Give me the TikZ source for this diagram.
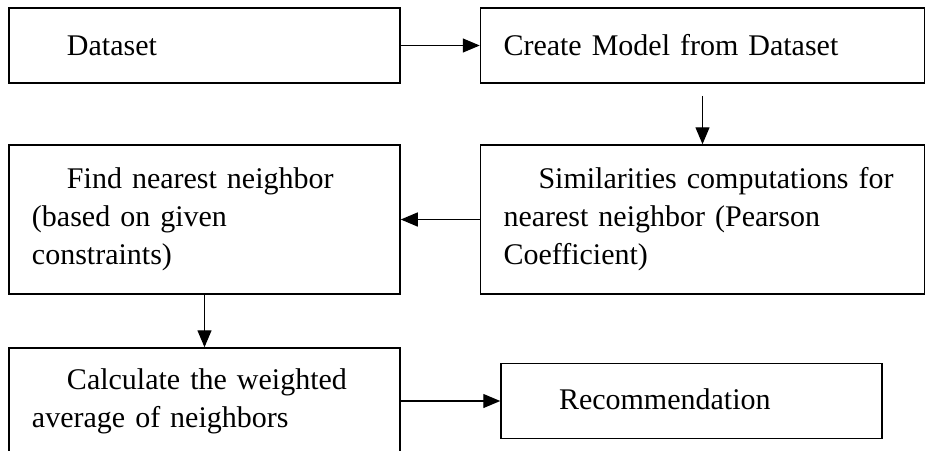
\documentclass[tikz,border=0pt]{standalone}
\usepackage{fontspec}
\setmainfont{Liberation Serif}
\usetikzlibrary{arrows.meta}

\tikzset{
    stepbox/.style={draw, rectangle, line width=1.5pt, inner xsep=23pt, inner ysep=0pt,
        align=left, font=\fontsize{30}{38}\selectfont},
}
\newcommand{\ind}{\hspace*{35pt}}

\begin{document}
\begin{tikzpicture}[node distance=174pt, >={Triangle[length=17pt,width=14pt]}, line width=1.3pt]
    \useasboundingbox (-204.5pt,45.5pt) rectangle (728.5pt,-404.5pt);
    \node (dataset) [stepbox, minimum width=391pt, minimum height=75pt, text width=345pt] {\ind Dataset};
    \node (find) [stepbox, below of=dataset, minimum width=391pt, minimum height=149pt, text width=345pt] {\ind Find nearest neighbor\\(based on given\\constraints)};
    \node (calc) [stepbox, below of=find, yshift=-7.5pt, minimum width=391pt, minimum height=106pt, text width=345pt] {\ind Calculate the weighted\\average of neighbors};
    \node (model) [stepbox, right of=dataset, xshift=324pt, minimum width=444pt, minimum height=75pt, text width=398pt] {Create Model from Dataset};
    \node (sim) [stepbox, below of=model, minimum width=444pt, minimum height=149pt, text width=398pt] {\ind Similarities computations for\\nearest neighbor (Pearson\\Coefficient)};
    \node (rec) [stepbox, right of=calc, xshift=313pt, minimum width=381pt, minimum height=75pt, text width=335pt, text depth=4pt] {\ind Recommendation};
    \coordinate (m1) at ([yshift=-12pt]model.south);

    \draw[->] (dataset) -- (model);
    \draw[->] (m1) -- (sim);
    \draw[->] (sim) -- (find);
    \draw[->] (find) -- (calc);
    \draw[->] (calc) -- (rec);
\end{tikzpicture}
\end{document}
